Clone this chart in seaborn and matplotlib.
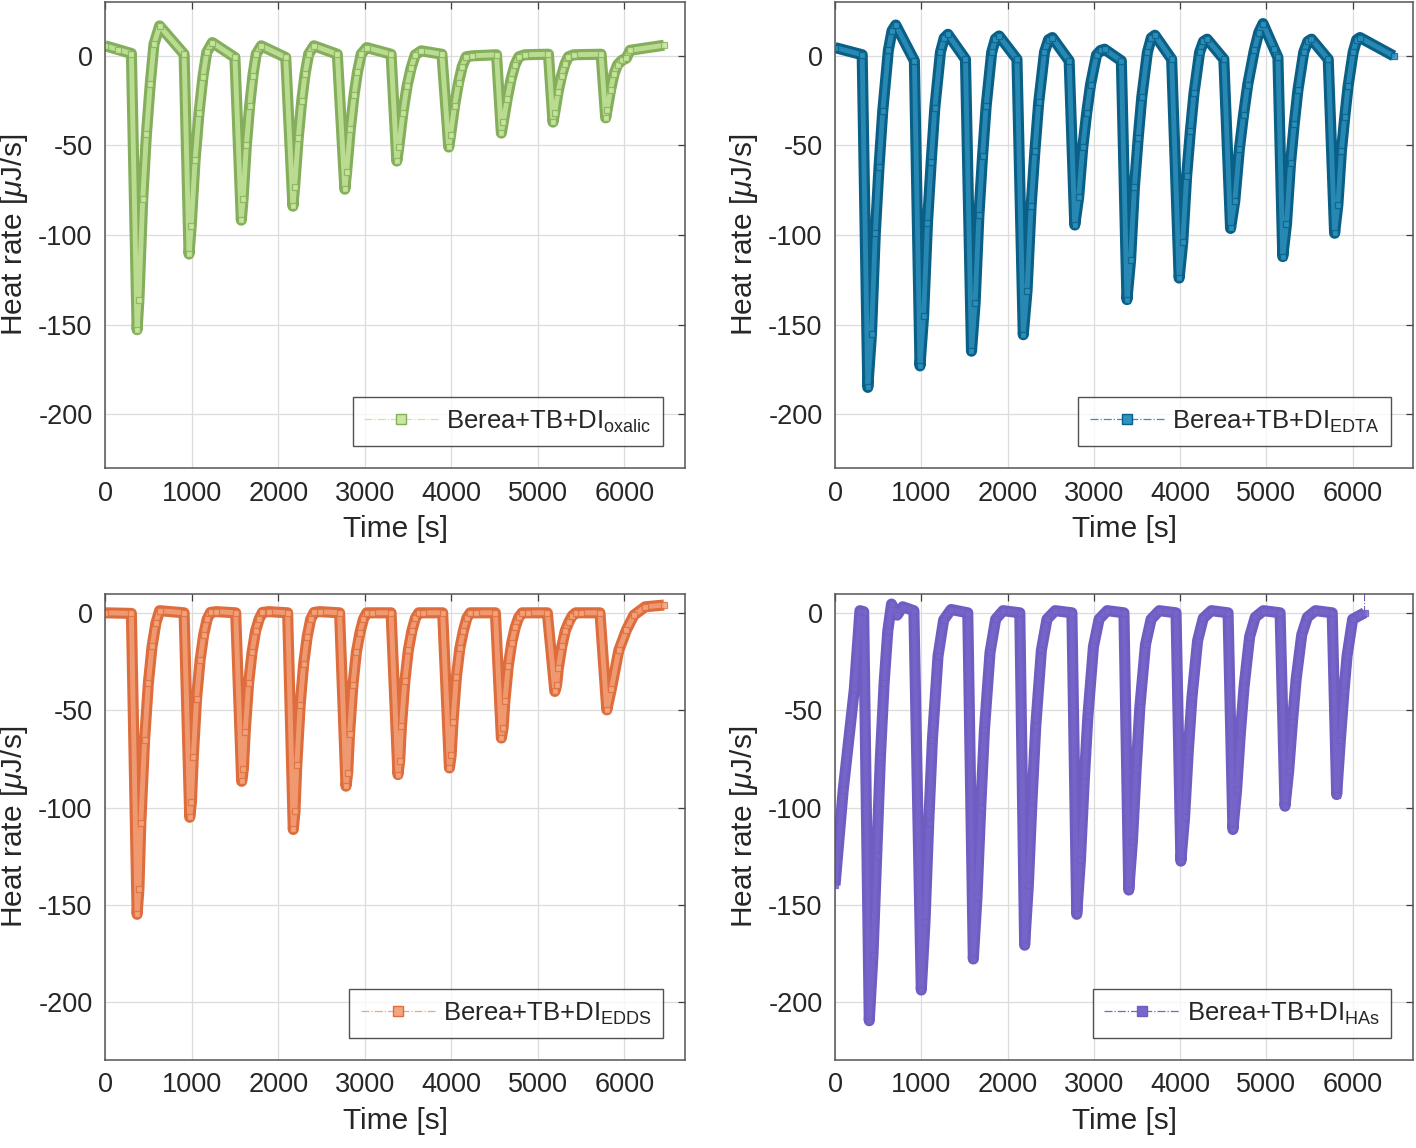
import numpy as np
import pandas as pd
import matplotlib
matplotlib.use("Agg")
import matplotlib.pyplot as plt
import seaborn as sns
from matplotlib.lines import Line2D

# ----------------------------------------
# Data
# ----------------------------------------

t_oxalic = [0, 150, 304, 370, 391, 435, 478, 522, 565, 630,
            913, 970, 995, 1040, 1085, 1130, 1175, 1239,
            1500, 1574, 1594, 1632, 1670, 1708, 1746, 1804,
            2087, 2170, 2190, 2231, 2272, 2311, 2352, 2413,
            2683, 2770, 2790, 2833, 2876, 2916, 2959, 3022,
            3304, 3370, 3393, 3440, 3488, 3534, 3582, 3652,
            3891, 3970, 3992, 4037, 4083, 4126, 4172, 4239,
            4522, 4578, 4600, 4645, 4690, 4735, 4780, 4848,
            5122, 5174, 5193, 5234, 5274, 5313, 5353, 5413,
            5730, 5783, 5800, 5840, 5880, 5920, 5970, 6022, 6065, 6457]
q_oxalic = [5.6, 3.5, 1.3, -152.8, -136, -80, -43.5, -15.7, 6.5, 16.7,
            0.9, -110.6, -95, -58, -32, -12, 2, 7.4,
            -0.9, -91.7, -80, -50, -28, -11, 1, 5.6,
            -0.9, -83.9, -73, -46, -25, -10, 1, 5.6,
            0.9, -74.4, -65, -41, -22, -9, 1, 4.6,
            0.9, -58.7, -51, -32, -17, -7, 0.5, 2.8,
            0.9, -50.9, -44, -28, -15, -6, -0.5, 0,
            0.6, -43.1, -37, -24, -13, -5, -0.5, 0.6,
            0.9, -37, -32, -20, -11, -4.5, -0.5, 0.6,
            0.9, -34.6, -30, -19, -10, -5, -2.5, -1.3, 3.1, 5.9]

t_edta = [0, 315, 380, 423, 467, 510, 553, 618, 661, 704,
          920, 985, 1027, 1072, 1115, 1157, 1222, 1266, 1309,
          1512, 1582, 1624, 1668, 1710, 1752, 1816, 1860, 1902,
          2109, 2182, 2226, 2273, 2317, 2361, 2428, 2475, 2519,
          2714, 2779, 2824, 2872, 2917, 2962, 3031, 3079, 3124,
          3319, 3384, 3426, 3471, 3514, 3556, 3621, 3666, 3708,
          3902, 3989, 4031, 4076, 4119, 4161, 4226, 4271, 4313,
          4507, 4585, 4634, 4687, 4735, 4784, 4860, 4912, 4961,
          5091, 5134, 5190, 5233, 5280, 5323, 5366, 5433, 5480, 5523,
          5717, 5791, 5829, 5870, 5909, 5947, 6006, 6047, 6085, 6474]
q_edta = [4.6, 0.6, -185, -155, -99, -62, -31, 3, 14, 17.2,
          -2.8, -173, -145, -93, -59, -29, 2, 10, 12,
          -1.9, -164.8, -138, -89, -56, -28, 2, 9.5, 11.1,
          -1.9, -155.6, -131, -84, -53, -26, 2, 9, 10.2,
          -2.8, -94.4, -79, -51, -32, -16, 0.5, 3, 3.7,
          -2.8, -136, -114, -73, -46, -23, 2, 10, 11.5,
          -1.9, -124, -104, -67, -42, -21, 2, 8, 9.3,
          -1.9, -96.3, -81, -52, -33, -16, 3, 13, 18,
          3.7, -0.9, -112, -94, -60, -38, -19, 2, 8, 9.3,
          -1.9, -99, -83, -53, -34, -17, 2, 9, 10.2, 0]

t_edds = [0, 304, 370, 391, 413, 457, 500, 543, 587, 630,
          913, 978, 998, 1019, 1057, 1098, 1139, 1179, 1218, 1283,
          1509, 1578, 1598, 1619, 1658, 1698, 1739, 1779, 1818, 1891,
          2109, 2174, 2194, 2215, 2254, 2294, 2335, 2375, 2414, 2478,
          2709, 2783, 2803, 2824, 2863, 2903, 2944, 2984, 3023, 3087,
          3304, 3383, 3403, 3424, 3463, 3503, 3544, 3584, 3623, 3674,
          3900, 3978, 3998, 4019, 4058, 4098, 4139, 4179, 4218, 4283,
          4509, 4578, 4598, 4619, 4658, 4698, 4739, 4779, 4818, 4891,
          5109, 5196, 5216, 5237, 5276, 5316, 5357, 5397, 5436, 5500,
          5717, 5796, 5848, 5935, 6022, 6109, 6239, 6457]
q_edds = [0.3, 0, -155, -142, -108, -65, -36, -17, -5, 1.4,
          0.3, -105, -97, -74, -44, -24, -11, -3, 0.5, 0.9,
          0.3, -86.5, -80, -61, -36, -20, -9, -3, 0.5, 0.9,
          0.3, -111.3, -102, -78, -47, -26, -12, -3, 0.5, 0.9,
          0.3, -89, -82, -62, -37, -20, -10, -3, 0.3, 0.3,
          0.3, -83, -76, -58, -35, -19, -9, -2.5, 0.3, 0.3,
          0.3, -79.6, -73, -56, -33, -18, -9, -2.4, 0.3, 0.3,
          0.3, -64.2, -59, -45, -27, -15, -7, -2, 0.3, 0.3,
          0.3, -40.2, -37, -28, -17, -9, -4.5, -1.2, 0.3, 0.3,
          0.3, -49.7, -39, -19, -8.6, -0.9, 3.4, 4.3]

t_has = [0, 95, 224, 289, 332, 397, 440, 483, 526, 569, 612, 655, 720, 784,
         914, 1000, 1043, 1086, 1129, 1194, 1259, 1345,
         1539, 1603, 1646, 1689, 1732, 1797, 1862, 1948,
         2142, 2198, 2241, 2284, 2327, 2392, 2457, 2552,
         2746, 2802, 2845, 2888, 2931, 2996, 3061, 3155,
         3349, 3405, 3448, 3491, 3534, 3599, 3664, 3759,
         3953, 4009, 4052, 4095, 4138, 4203, 4268, 4362,
         4556, 4612, 4655, 4698, 4741, 4806, 4871, 4966,
         5159, 5216, 5259, 5302, 5345, 5410, 5475, 5569,
         5763, 5815, 5858, 5900, 5935, 6000, 6138, 6138]
q_has = [-140, -91, -39, 1.4, 0.9, -209.8, -176, -125, -74, -36, -9, 4.8, -0.9, 3.4,
         1.4, -194, -159, -108, -65, -22, -3.4, 2,
         0.3, -178, -146, -100, -60, -20, -3, 1.4,
         0.3, -170.9, -140, -96, -58, -19, -3, 1.4,
         0.3, -155, -127, -87, -53, -17, -3, 1.4,
         0.3, -142.5, -117, -80, -48, -16, -3, 1.4,
         0.3, -127.6, -105, -71, -43, -14, -2.5, 1.4,
         0.3, -111.3, -91, -62, -38, -12, -2, 1.4,
         0.3, -99.3, -81, -56, -34, -11, -2, 1.4,
         0.3, -93.3, -65, -40, -22, -3, 0.3, 40]

labels = ["oxalic", "EDTA", "EDDS", "HAs"]
edge_colors = ["#84AE5C", "#0A5F86", "#DD6D3C", "#6F5DC2"]
face_colors = ["#C8E89E", "#2E93BF", "#F5A57E", "#7866CB"]

# ----------------------------------------
# Style
# ----------------------------------------

sns.set_style("white")
plt.rcParams["font.family"] = ["Liberation Sans", "DejaVu Sans"]
plt.rcParams["mathtext.fontset"] = "custom"
plt.rcParams["mathtext.rm"] = "Liberation Sans"
plt.rcParams["mathtext.it"] = "Liberation Sans:italic"

fig = plt.figure(figsize=(14.16, 11.48), dpi=100)

positions = [
    [0.0742, 0.5923, 0.4096, 0.4059],
    [0.5897, 0.5923, 0.4082, 0.4059],
    [0.0742, 0.0767, 0.4096, 0.4059],
    [0.5897, 0.0767, 0.4082, 0.4059],
]
ylims = [(-230, 30), (-230, 30), (-230, 10), (-230, 10)]
series = [(t_oxalic, q_oxalic), (t_edta, q_edta), (t_edds, q_edds), (t_has, q_has)]

for i, (t, q) in enumerate(series):
    ax = fig.add_axes(positions[i])
    df = pd.DataFrame({"t": t, "q": q})
    band = df.iloc[:-1] if labels[i] == "HAs" else df

    # thin dash-dot connecting line (visible only where the band stops)
    sns.lineplot(data=df, x="t", y="q", sort=False, estimator=None, ax=ax,
                 color=edge_colors[i], lw=0.8, ls="-.")
    # dense-marker band look
    sns.lineplot(data=band, x="t", y="q", sort=False, estimator=None, ax=ax,
                 color=edge_colors[i], lw=8, solid_joinstyle="round",
                 solid_capstyle="butt")
    sns.lineplot(data=band, x="t", y="q", sort=False, estimator=None, ax=ax,
                 color=face_colors[i], lw=3.5, alpha=0.8, marker="s", ms=4.5,
                 mfc=face_colors[i], mec=edge_colors[i], mew=0.9,
                 solid_joinstyle="round")

    ax.set_xlim(0, 6700)
    ax.set_ylim(*ylims[i])
    ax.set_xticks(np.arange(0, 7000, 1000))
    ax.set_yticks([-200, -150, -100, -50, 0])
    ax.set_yticklabels(["-200", "-150", "-100", "-50", "0"])
    ax.grid(True, color="#DCDCDC", lw=0.9)
    ax.set_axisbelow(True)
    ax.tick_params(direction="in", top=True, right=True, length=5, width=0.9,
                   colors="#404040", labelcolor="#262626", labelsize=19.5, pad=9)
    for sp in ax.spines.values():
        sp.set_color("#555555")
        sp.set_linewidth(1.1)

    ax.set_xlabel("Time [s]", fontsize=21.5, color="#262626", labelpad=6)
    ax.set_ylabel(r"Heat rate [$\mu$J/s]", fontsize=21.5, color="#262626", labelpad=6)

    handle = Line2D([], [], color=face_colors[i], ls="-.", lw=0.9, marker="s",
                    ms=7, mfc=face_colors[i], mec=edge_colors[i])
    leg = ax.legend([handle], [r"Berea+TB+DI$_{\mathrm{%s}}$" % labels[i]],
                    loc="lower right", fontsize=18.5, frameon=True, fancybox=False,
                    numpoints=1, handlelength=2.9, borderaxespad=0.85,
                    borderpad=0.45, handletextpad=0.3)
    leg.get_frame().set_edgecolor("#262626")
    leg.get_frame().set_linewidth(1.0)

plt.savefig("out.png", dpi=100)
